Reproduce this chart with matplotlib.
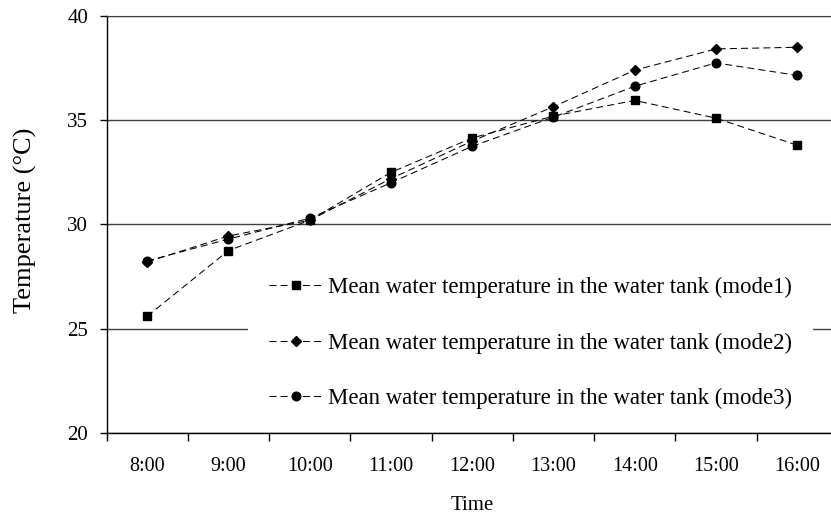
import matplotlib
matplotlib.use("Agg")
import matplotlib.pyplot as plt

# hours on the x axis (category axis, points sit in the middle of each slot)
times = ["8:00", "9:00", "10:00", "11:00", "12:00", "13:00", "14:00", "15:00", "16:00"]

# mean water temperature in the tank (°C)
mode1 = [25.6, 28.75, 30.2, 32.5, 34.15, 35.2, 35.95, 35.1, 33.8]
mode2 = [28.2, 29.45, 30.2, 32.2, 34.0, 35.65, 37.4, 38.42, 38.5]
mode3 = [28.25, 29.3, 30.3, 32.0, 33.75, 35.15, 36.63, 37.75, 37.15]

labels = ["Mean water temperature in the water tank (mode1)",
          "Mean water temperature in the water tank (mode2)",
          "Mean water temperature in the water tank (mode3)"]

plt.rcParams["font.family"] = ["Liberation Serif", "DejaVu Serif"]

fig = plt.figure(figsize=(8.31, 5.22), dpi=100)
ax = fig.add_axes([0.1282, 0.1705, 0.8801, 0.7989])

x = list(range(len(times)))
dash = (6.7, 4)  # dash pattern, in units of line width

ax.plot(x, mode1, color="black", lw=0.75, dashes=dash, marker="s", ms=5.5, label=labels[0], zorder=3)
ax.plot(x, mode2, color="black", lw=0.75, dashes=dash, marker="D", ms=4.6, label=labels[1], zorder=3)
ax.plot(x, mode3, color="black", lw=0.75, dashes=dash, marker="o", ms=6.2, label=labels[2], zorder=3)

# y axis
ax.set_ylim(20, 40)
ax.set_yticks([20, 25, 30, 35, 40])
ax.yaxis.grid(True, color="#404040", lw=1)
ax.set_axisbelow(True)
ax.tick_params(axis="y", direction="out", length=5, width=1, pad=8.3, labelsize=15)

# x axis: labels in the middle, tick marks between categories
ax.set_xlim(-0.5, len(times) - 0.5)
ax.set_xticks(x)
ax.set_xticklabels(times)
ax.set_xticks([i - 0.5 for i in range(len(times) + 1)], minor=True)
ax.tick_params(axis="x", which="major", length=0, pad=17, labelsize=14.5)
ax.tick_params(axis="x", which="minor", direction="out", length=6, width=1)

ax.spines["right"].set_visible(False)
ax.spines["top"].set_color("#404040")
ax.spines["left"].set_linewidth(1)
ax.spines["bottom"].set_linewidth(1)

ax.set_xlabel("Time", fontsize=15)
ax.xaxis.set_label_coords(0.5, -0.152)
ax.set_ylabel("Temperature (°C)", fontsize=19)
ax.yaxis.set_label_coords(-0.095, 0.51)

# legend sits inside the plot with a plain white box (hides part of the 25 line)
leg = ax.legend(loc="center", bbox_to_anchor=(0.6384, 0.3429), bbox_transform=fig.transFigure,
                fontsize=16.4, frameon=True, fancybox=False, edgecolor="none",
                facecolor="white", framealpha=1, handlelength=2.37, handletextpad=0.26,
                labelspacing=1.52, borderpad=0.9)
leg.set_zorder(2.5)

fig.savefig("out.png", dpi=100)
